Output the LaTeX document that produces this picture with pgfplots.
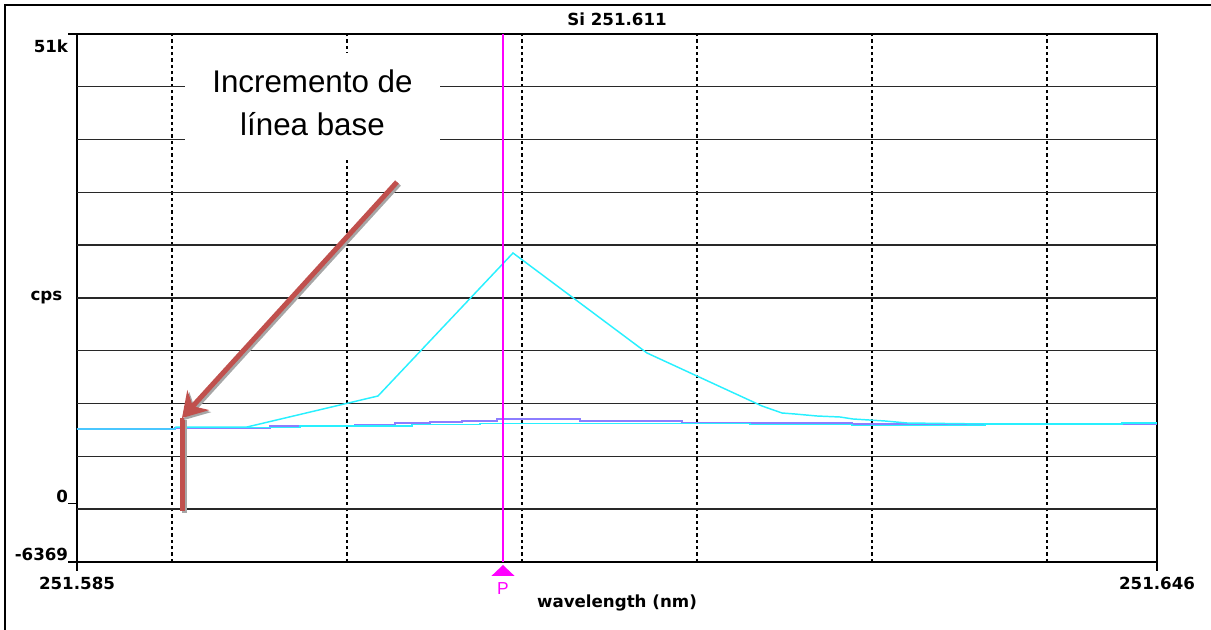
\documentclass[border=0pt]{standalone}
\usepackage{fontspec}
\usepackage{pgfplots}
\pgfplotsset{compat=1.18}
\usetikzlibrary{arrows.meta}
\newfontfamily\chartfont{DejaVu Sans}
\newfontfamily\notefont{Liberation Sans}
\definecolor{spcyan}{RGB}{40,240,255}
\definecolor{spthick}{RGB}{20,200,255}
\definecolor{sppurple}{RGB}{140,125,255}
\definecolor{noteRed}{RGB}{192,80,77}
\definecolor{peakmag}{RGB}{255,0,255}
\definecolor{gridgray}{RGB}{40,40,40}
\begin{document}
\begin{tikzpicture}
\useasboundingbox (-57.75pt,-51pt) rectangle (850.5pt,421.5pt);
% x = wavelength offset in pm above 251.580 nm
\begin{axis}[
  at={(0pt,0pt)}, anchor=south west,
  width=810pt, height=396pt, scale only axis,
  xmin=4.571, xmax=66.286, ymin=-6369, ymax=51000,
  scaled x ticks=false, scaled y ticks=false,
  axis line style={black, line width=1pt},
  tick align=outside, major tick length=6.5pt,
  tick style={black, line width=1pt},
  xtick pos=left, ytick pos=left,
  xtick={4.571,66.286}, xticklabels={251.585,251.646},
  ytick={-6369,0,51000}, yticklabels={-6369,0,\raisebox{-15.25pt}{51k}},
  tick label style={font=\chartfont\bfseries\fontsize{12.5}{15}\selectfont, text=black},
  yticklabel style={anchor=base east, inner sep=0pt, yshift=1pt},
  xticklabel style={anchor=north, inner sep=0pt, yshift=-4.5pt},
  extra x ticks={10,20,30,40,50,60}, extra x tick labels={},
  extra x tick style={major tick length=0pt, grid=major,
    major grid style={black, line width=0.85pt, dash pattern=on 2.5pt off 2.25pt}},
  extra y ticks={-632.1,5104.8,10841.7,16578.6,22315.5,28052.4,33789.3,39526.2,45263.1},
  extra y tick labels={},
  extra y tick style={major tick length=0pt, grid=major,
    major grid style={gridgray, line width=1.05pt}},
  title={Si 251.611},
  every axis title/.style={at={(0.5,1)}, anchor=base, yshift=6pt,
    font=\chartfont\bfseries\fontsize{12.5}{15}\selectfont},
  xlabel={wavelength (nm)},
  every axis x label/.style={at={(0.5,0)}, anchor=base, yshift=-34.5pt,
    font=\chartfont\bfseries\fontsize{12.5}{15}\selectfont},
  ylabel={cps},
  every axis y label/.style={at={(0,0.5)}, anchor=east, xshift=-7.5pt,
    font=\chartfont\bfseries\fontsize{12.5}{15}\selectfont},
]
% heavy ends of the baseline
\addplot[spthick, line width=2.2pt] coordinates {(4.571,8081) (10.171,8081)};
\addplot[spthick, line width=2.2pt] coordinates {(64.286,8733) (66.286,8733)};
% replicate 2 (purple)
\addplot[sppurple, line width=1.5pt, const plot] coordinates {
  (4.571,8081) (10.171,8136) (15.6,8407) (20.457,8570) (22.743,8701)
  (24.743,8809) (26.571,8983) (28.571,9168) (33.314,8983) (39.143,8766)
  (43.029,8701) (48.857,8625) (66.286,8625)};
% replicate 3 (cyan, flat)
\addplot[spcyan, line width=1.1pt, const plot] coordinates {
  (10.171,8244) (17.314,8407) (23.714,8592) (27.6,8701) (43.029,8592)
  (48.857,8440) (56.457,8625) (64.286,8733) (66.286,8733)};
% replicate 1 (cyan, with Si peak)
\addplot[spcyan, line width=1.1pt] coordinates {
  (4.571,8081) (10.171,8081) (10.229,8299) (14.286,8299) (21.771,11667)
  (29.486,27204) (37.143,16339) (43.714,10580) (44.857,9820) (45.6,9711)
  (46.857,9494) (48.171,9385) (48.914,9168) (50.743,8951) (52.0,8733)
  (56.457,8625)};
% peak position marker
\draw[peakmag, line width=1pt] (axis cs:28.914,-6369) -- (axis cs:28.914,51000);
\end{axis}
% outer frame
\draw[black, line width=1.5pt] (-54pt,-70pt) rectangle (870pt,417.75pt);
% peak marker "P"
\fill[peakmag] (319.5pt,-2.25pt) -- (328.2pt,-10.5pt) -- (310.8pt,-10.5pt) -- cycle;
\node[text=peakmag, font=\notefont\fontsize{13}{15}\selectfont, anchor=base, inner sep=0pt]
  at (319.5pt,-24.75pt) {P};
% callout
\fill[white] (81pt,303pt) rectangle (272.25pt,381.75pt);
\node[anchor=base, inner sep=0pt, font=\notefont\fontsize{23.5}{28}\selectfont]
  at (176.6pt,351.75pt) {Incremento de};
\node[anchor=base, inner sep=0pt, font=\notefont\fontsize{23.5}{28}\selectfont]
  at (176.6pt,319.7pt) {línea base};
\draw[gray!70, line width=3.75pt] (80.6pt,106.5pt) -- (80.6pt,36.75pt);
\draw[noteRed, line width=3.75pt] (79.1pt,108pt) -- (79.1pt,38.25pt);
\draw[gray!70, line width=3.75pt, -{Stealth[length=18pt,width=22pt,inset=6pt]}]
  (241.5pt,283.5pt) -- (80.25pt,106.5pt);
\draw[noteRed, line width=3.75pt, -{Stealth[length=18pt,width=22pt,inset=6pt]}]
  (240pt,285pt) -- (78.75pt,108pt);
\end{tikzpicture}
\end{document}
